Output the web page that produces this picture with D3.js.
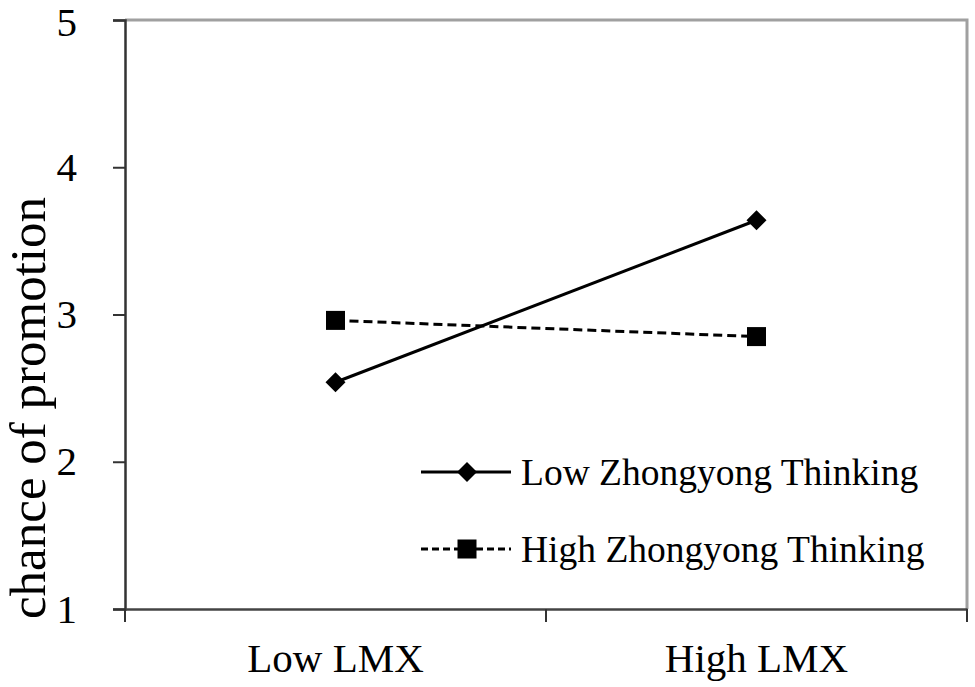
<!DOCTYPE html>
<html>
<head>
<meta charset="utf-8">
<script src="https://cdn.jsdelivr.net/npm/d3@7"></script>
<style>
  body { margin: 0; background: #fff; }
  text { font-family: "Liberation Serif", "Times New Roman", serif; fill: #000; }
</style>
</head>
<body>
<div class="chart" style="width:975px;height:687px"></div>
<script>
// data
const categories = ['Low LMX', 'High LMX'];
const seriesNames = ['Low Zhongyong Thinking', 'High Zhongyong Thinking'];
const lowZhongyong = [2.54, 3.64];
const highZhongyong = [2.96, 2.85];
const yTicks = [1, 2, 3, 4, 5];

const W = 975, H = 687;
const margin = {t:20, r:8, b:78, l:125};

const svg = d3.select('.chart')
  .append('svg')
    .attr('width', W)
    .attr('height', H);

const x = d3.scaleBand().domain(categories).range([margin.l, W - margin.r]);
const y = d3.scaleLinear().domain([1, 5]).range([H - margin.b, margin.t]);

// plot frame: top and right border in gray
svg.append('path')
  .attr('d', `M${x.range()[0]},${y(5)}H${x.range()[1]}V${y(1)}`)
  .attr('fill', 'none')
  .attr('stroke', '#a0a0a0')
  .attr('stroke-width', 3);

// y axis
const yAxis = svg.append('g')
  .attr('transform', `translate(${margin.l},0)`)
  .call(d3.axisLeft(y).tickValues(yTicks).tickSize(12).tickPadding(36).tickFormat(d3.format('d')));
yAxis.select('.domain').attr('stroke', '#333').attr('stroke-width', 2.5);
yAxis.selectAll('.tick line').attr('stroke', '#333').attr('stroke-width', 2);
yAxis.selectAll('.tick text')
  .style('font-family', '"Liberation Serif", serif')
  .style('font-size', '41px')
  .attr('fill', '#000')
  .attr('dy', d => d === 5 ? '0.38em' : '0.32em');

// x axis: ticks sit at the category boundaries
const xAxis = svg.append('g')
  .attr('transform', `translate(0,${y(1)})`)
  .call(d3.axisBottom(x).tickSize(0).tickPadding(34));
xAxis.select('.domain').attr('stroke', '#444').attr('stroke-width', 2.5);
xAxis.selectAll('.tick text')
  .style('font-family', '"Liberation Serif", serif')
  .style('font-size', '41px')
  .attr('fill', '#000');
const bounds = categories.map(d => x(d)).concat([x.range()[1]]);
xAxis.selectAll('.bound')
  .data(bounds)
  .enter().append('line')
    .attr('class', 'bound')
    .attr('x1', d => d).attr('x2', d => d)
    .attr('y1', 0).attr('y2', 13)
    .attr('stroke', '#333')
    .attr('stroke-width', 2);

// y axis title
svg.append('text')
  .attr('transform', 'translate(45,408) rotate(-90)')
  .attr('text-anchor', 'middle')
  .style('font-size', '51px')
  .text('chance of promotion');

const line = d3.line()
  .x((d, i) => x(categories[i]) + x.bandwidth() / 2)
  .y(d => y(d));

const series = [
  {name: seriesNames[0], values: lowZhongyong, dash: null, marker: 'diamond'},
  {name: seriesNames[1], values: highZhongyong, dash: '9,5', marker: 'square'}
];

function drawMarker(sel, type) {
  if (type === 'diamond') {
    sel.append('path')
      .attr('d', 'M0,-10L10,0L0,10L-10,0Z')
      .attr('fill', '#000');
  } else {
    sel.append('rect')
      .attr('x', -9.5).attr('y', -9.5)
      .attr('width', 19).attr('height', 19)
      .attr('fill', '#000');
  }
}

series.forEach(function(s){
  svg.append('path')
    .datum(s.values)
    .attr('d', line)
    .attr('fill', 'none')
    .attr('stroke', '#000')
    .attr('stroke-width', 3)
    .attr('stroke-dasharray', s.dash);

  s.values.forEach(function(v, i){
    const g = svg.append('g')
      .attr('transform', `translate(${x(categories[i]) + x.bandwidth() / 2},${y(v)})`);
    drawMarker(g, s.marker);
  });
});

// legend
const legend = svg.append('g').attr('transform', 'translate(421,472)');
series.forEach(function(s, i){
  const row = legend.append('g').attr('transform', `translate(0,${i * 77})`);
  row.append('line')
    .attr('x1', 0).attr('x2', 90)
    .attr('stroke', '#000')
    .attr('stroke-width', 3)
    .attr('stroke-dasharray', s.dash ? '7,4' : null);
  drawMarker(row.append('g').attr('transform', 'translate(46,0)'), s.marker);
  row.append('text')
    .attr('x', 100)
    .attr('dy', '0.35em')
    .style('font-size', '37.5px')
    .text(s.name);
});
</script>
</body>
</html>
